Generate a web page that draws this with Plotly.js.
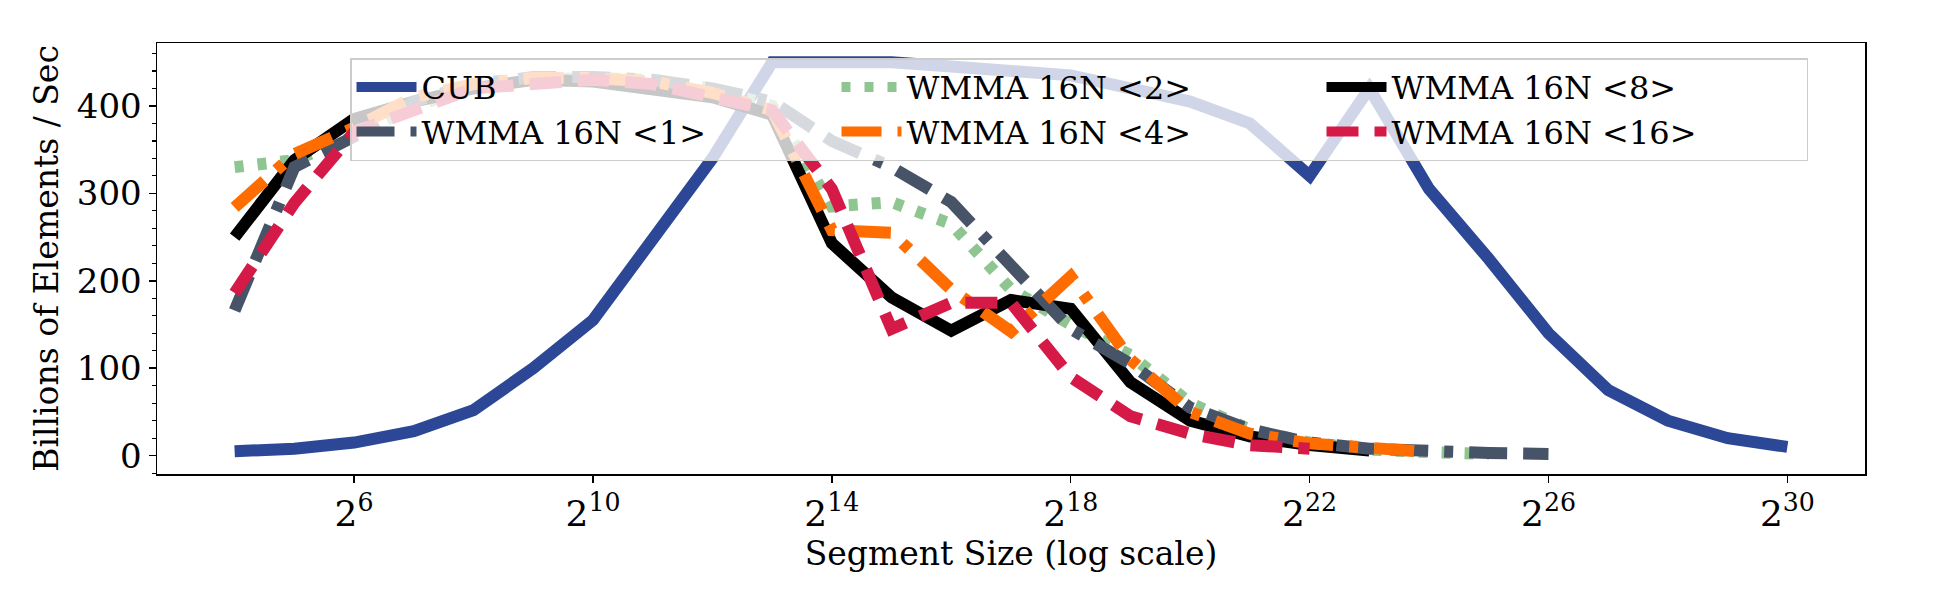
<!DOCTYPE html>
<html>
<head>
<meta charset="utf-8">
<script src="https://cdn.plot.ly/plotly-3.0.1.min.js"></script>
<style>html,body{margin:0;padding:0;background:#fff;}</style>
</head>
<body>
<div id="chart" style="width:1939px;height:600px;"></div>
<script>
// segment sizes as powers of two
var cubExp = [4,5,6,7,8,9,10,11,12,13,14,15,16,17,18,19,20,21,22,23,24,25,26,27,28,29,30];
var cub = [5,8,15,28,52,100,155,245,340,450,451,450,445,440,435,420,405,380,320,420,305,225,140,75,40,20,10];

var w1Exp = [4,5,6,7,8,9,10,11,12,13,14,15,16,17,18,19,20,21,22,23,24,25,26];
var w1 = [166,330,365,405,425,433,433,430,420,405,360,330,290,215,145,105,55,30,15,8,4,3,2];

var w2Exp = [4,5,6,7,8,9,10,11,12,13,14,15,16,17,18,19,20,21,22,23,24,25];
var w2 = [330,338,365,400,420,430,432,430,420,400,285,290,265,190,150,115,60,30,15,7,4,2];

var w4Exp = [4,5,6,7,8,9,10,11,12,13,14,15,16,17,18,19,20,21,22,23,24];
var w4 = [284,345,375,410,425,432,432,428,415,395,258,255,190,142,205,110,50,25,14,8,4];

var w8Exp = [4,5,6,7,8,9,10,11,12,13,14,15,16,17,18,19,20,21,22,23];
var w8 = [250,338,385,405,420,430,428,420,410,390,243,181,143,178,168,84,40,22,12,6];

var w16Exp = [4,5,6,7,8,9,10,11,12,13,14,15,16,17,18,19,20,21,22];
var w16 = [186,289,370,395,420,425,430,425,410,395,305,145,175,175,90,45,25,12,8];

var tickExp = [6,10,14,18,22,26,30];

function sizes(exps) { return exps.map(function (e) { return Math.pow(2, e); }); }

function trace(name, exps, vals, color, dash) {
    return {
        x: sizes(exps), y: vals, name: name, type: 'scatter', mode: 'lines',
        line: {color: color, width: 12, dash: dash}
    };
}

// legend in plotly fills row-wise, so order traces to get the same grid
var data = [
    trace('CUB', cubExp, cub, '#2b4795', 'solid'),
    trace('WMMA 16N &lt;2&gt;', w2Exp, w2, '#8fc591', '9px,14px'),
    trace('WMMA 16N &lt;8&gt;', w8Exp, w8, '#000000', 'solid'),
    trace('WMMA 16N &lt;1&gt;', w1Exp, w1, '#475467', '38px,16px,38px,16px,9px,16px'),
    trace('WMMA 16N &lt;4&gt;', w4Exp, w4, '#ff6d00', '40px,16px,9px,16px'),
    trace('WMMA 16N &lt;16&gt;', w16Exp, w16, '#d51a48', '32px,16px')
];

var font = {family: 'DejaVu Serif, serif', size: 33, color: '#000'};

var layout = {
    width: 1939, height: 600,
    margin: {l: 157, r: 74, t: 43, b: 126},
    paper_bgcolor: '#fff', plot_bgcolor: '#fff',
    font: font,
    showlegend: true,
    legend: {
        orientation: 'h', x: 0.113, y: 0.965, xanchor: 'left', yanchor: 'top',
        entrywidth: 410, bgcolor: 'rgba(255,255,255,0.78)', bordercolor: '#cccccc',
        borderwidth: 1.5, font: {family: 'DejaVu Serif, serif', size: 32}, itemwidth: 60,
        tracegroupgap: 4
    },
    xaxis: {
        type: 'log',
        range: [2.7 * Math.log10(2), 31.3 * Math.log10(2)],
        tickvals: sizes(tickExp),
        ticktext: tickExp.map(function (e) { return '2<sup>' + e + '</sup>'; }),
        tickfont: {family: 'DejaVu Serif, serif', size: 36},
        ticks: 'outside', ticklen: 7, tickwidth: 1.5, tickcolor: '#000',
        showline: true, linecolor: '#000', linewidth: 1.5, mirror: true,
        showgrid: false, zeroline: false,
        title: {text: 'Segment Size (log scale)', font: font, standoff: 4}
    },
    yaxis: {
        range: [-21, 472],
        tickvals: [0, 100, 200, 300, 400],
        tickfont: {family: 'DejaVu Serif, serif', size: 34},
        ticks: 'outside', ticklen: 7, tickwidth: 1.5, tickcolor: '#000',
        minor: {dtick: 20, ticks: 'outside', ticklen: 4, tickwidth: 1.2, tickcolor: '#000', showgrid: false},
        showline: true, linecolor: '#000', linewidth: 1.5, mirror: true,
        showgrid: false, zeroline: false,
        title: {text: 'Billions of Elements / Sec', font: font, standoff: 8}
    }
};

Plotly.newPlot('chart', data, layout, {displayModeBar: false, staticPlot: true});
</script>
</body>
</html>
